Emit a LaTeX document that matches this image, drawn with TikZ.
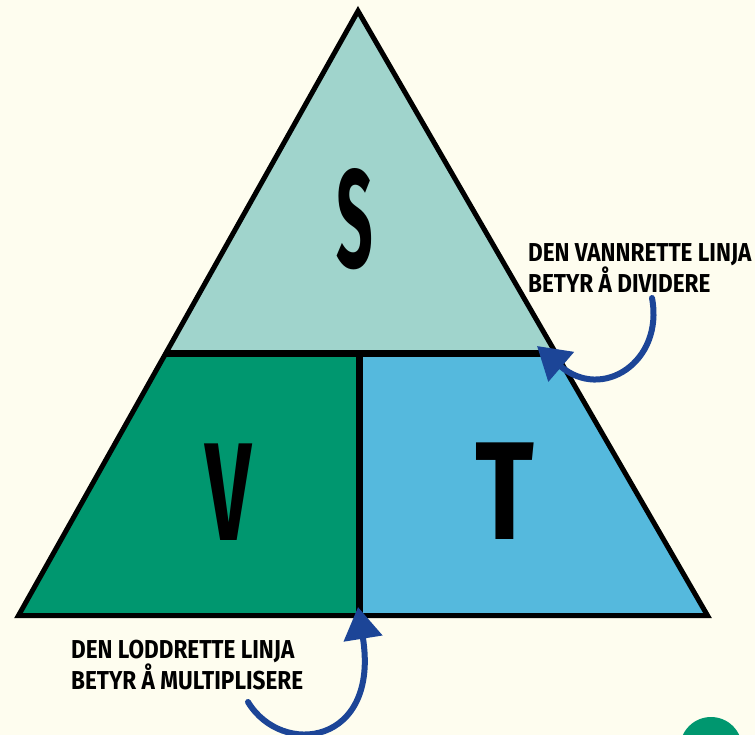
\documentclass[tikz,border=0pt]{standalone}
\usepackage{fontspec}
\setmainfont{Fira Sans}
\usetikzlibrary{arrows.meta}
\definecolor{bg}{RGB}{254,253,239}
\definecolor{topc}{RGB}{160,212,204}
\definecolor{greenc}{RGB}{0,151,111}
\definecolor{bluec}{RGB}{85,185,221}
\definecolor{arrowc}{RGB}{28,69,151}
\begin{document}
\begin{tikzpicture}[x=1bp,y=-1bp,
  letter/.style={font=\fontsize{140}{140}\selectfont\bfseries, inner sep=0pt},
  note/.style={font=\fontsize{26}{31}\selectfont\bfseries, inner sep=0pt, align=left, anchor=north west, xscale=0.87},
  annot/.style={draw=arrowc, line width=6bp, line cap=round, -{Triangle[length=32bp,width=38bp]}}]
\useasboundingbox (0,0) rectangle (755,735);
\fill[bg] (0,0) rectangle (755,735);
% triangle geometry
\coordinate (A) at (358,11);
\coordinate (BL) at (18.5,615.5);
\coordinate (BR) at (707.5,615.5);
\coordinate (HL) at (165.6,353.5);
\coordinate (HR) at (556,353.5);
\coordinate (M) at (359,353.5);
\coordinate (MB) at (359,615.5);
\fill[topc] (A) -- (HR) -- (HL) -- cycle;
\fill[greenc] (HL) -- (M) -- (MB) -- (BL) -- cycle;
\fill[bluec] (M) -- (HR) -- (BR) -- (MB) -- cycle;
\draw[line width=7bp] (HL) -- (HR);
\draw[line width=7bp] (M) -- (MB);
\draw[line width=5bp, line join=miter] (A) -- (BR) -- (BL) -- cycle;
% letters
\node[letter, xscale=0.46] (S) at (355,219) {S};
\node[letter, xscale=0.58] (V) at (229,492) {V};
\node[letter, xscale=0.78] (T) at (505,491) {T};
% notes
\node[note] (n1) at (528,243) {DEN VANNRETTE LINJA\\BETYR Å DIVIDERE};
\node[note] (n2) at (71,640) {DEN LODDRETTE LINJA\\BETYR Å MULTIPLISERE};
% arrows
\coordinate (t1) at (652,298);
\coordinate (t2) at (537,346);
\draw[annot] (t1) .. controls (664,362) and (602,402) .. (t2);
\coordinate (b1) at (248,702);
\coordinate (b2) at (358,607);
\draw[annot] (b1) .. controls (282,758) and (380,745) .. (b2);
% corner circle
\begin{scope}
\clip (0,0) rectangle (755,735);
\fill[greenc] (711,748) circle[radius=31bp];
\end{scope}
\end{tikzpicture}
\end{document}
